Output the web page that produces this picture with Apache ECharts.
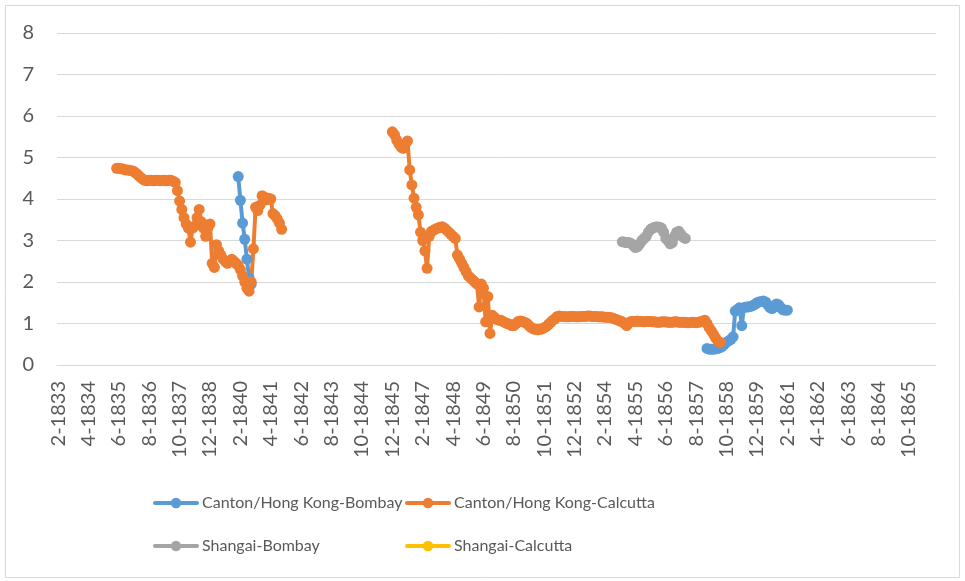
<!DOCTYPE html>
<html>
<head>
<meta charset="utf-8">
<title>Exchange rates</title>
<script src="https://cdn.jsdelivr.net/npm/echarts@6/dist/echarts.min.js"></script>
<style>
    html, body { margin: 0; padding: 0; background: #fff; }
    #echarts { width: 965px; height: 581px; }
</style>
</head>
<body>
<div id="echarts"></div>
<script>
// months shown on the axis: 2-1833 .. 10-1866
var firstMonth = 2, firstYear = 1833, monthCount = 405;

var seriesNames = ['Canton/Hong Kong-Bombay', 'Canton/Hong Kong-Calcutta', 'Shangai-Bombay', 'Shangai-Calcutta'];
var seriesColors = ['#5B9BD5', '#ED7D31', '#A5A5A5', '#FFC000'];

// Canton/Hong Kong-Bombay
var hkBombayStartA = '1-1840';
var hkBombayA = [4.54, 3.97, 3.42, 3.03, 2.55, 2.10, 1.95];
var hkBombayStartB = '1-1858';
var hkBombayB = [0.40, 0.38, 0.38, 0.38, 0.39, 0.40, 0.42, 0.45, 0.50, 0.55, 0.58, 0.62, 0.68,
    1.30, 1.34, 1.38, 0.95, 1.38, 1.40, 1.40, 1.41, 1.43, 1.46, 1.50, 1.52, 1.53, 1.54, 1.52,
    1.45, 1.38, 1.36, 1.40, 1.47, 1.45, 1.38, 1.33, 1.32, 1.32];

// Canton/Hong Kong-Calcutta
var hkCalcuttaStartA = '5-1835';
var hkCalcuttaA = [4.74, 4.74, 4.73, 4.72, 4.70, 4.70, 4.69,
    4.68, 4.66, 4.62, 4.57, 4.52, 4.48,
    4.45, 4.44, 4.45, 4.45, 4.44, 4.45, 4.45, 4.44, 4.45, 4.45, 4.44, 4.45, 4.45, 4.43,
    4.40, 4.20, 3.95, 3.75, 3.55, 3.40, 3.30, 2.96,
    3.30, 3.35, 3.55, 3.75, 3.45, 3.30, 3.10, 3.30, 3.40,
    2.45, 2.35, 2.90, 2.75, 2.65, 2.55, 2.50, 2.45, 2.50, 2.55, 2.50, 2.45, 2.40, 2.30, 2.15, 2.00, 1.85, 1.78,
    2.00, 2.80, 3.80, 3.72, 3.85, 4.08, 4.05, 3.98, 4.02, 4.00, 3.65, 3.60, 3.52, 3.42, 3.27];
var hkCalcuttaStartB = '12-1845';
var hkCalcuttaB = [5.62, 5.55, 5.42, 5.33, 5.25, 5.22, 5.32, 5.40,
    4.70, 4.34, 4.02, 3.80, 3.62, 3.20, 3.00, 2.75, 2.33,
    3.10, 3.22, 3.25, 3.28, 3.30, 3.32, 3.33, 3.30, 3.25, 3.20, 3.15, 3.10, 3.05,
    2.65, 2.55, 2.45, 2.35, 2.25, 2.15, 2.10, 2.05, 2.00, 1.95, 1.40, 1.95, 1.85, 1.04, 1.65, 0.76,
    1.20, 1.15, 1.10, 1.08, 1.08, 1.05, 1.02, 1.00, 0.98, 0.95, 0.95, 1.00, 1.05, 1.06, 1.05, 1.03,
    1.00, 0.95, 0.90, 0.87, 0.86, 0.85, 0.86, 0.87, 0.90, 0.93, 0.98, 1.03, 1.08, 1.12, 1.17, 1.18,
    1.17, 1.17, 1.16, 1.16, 1.17, 1.17, 1.17, 1.16, 1.16, 1.17, 1.17, 1.17, 1.18, 1.18, 1.17, 1.17,
    1.17, 1.16, 1.16, 1.16, 1.15, 1.15, 1.15,
    1.14, 1.12, 1.10, 1.08, 1.06, 1.04, 1.00, 0.95, 1.02, 1.05,
    1.05, 1.05, 1.06, 1.05, 1.05, 1.04, 1.05, 1.05, 1.05, 1.04, 1.04, 1.03, 1.03, 1.04, 1.04, 1.04,
    1.03, 1.03, 1.03, 1.04, 1.04, 1.03, 1.03, 1.03, 1.03, 1.02, 1.02, 1.03, 1.03, 1.02, 1.03,
    1.04, 1.06, 1.08, 1.00, 0.90, 0.82, 0.74, 0.65, 0.57, 0.55];

// Shangai-Bombay
var shBombayStart = '10-1854';
var shBombay = [2.97, 2.96, 2.95, 2.95, 2.93, 2.88, 2.83, 2.85, 2.92, 3.00, 3.05, 3.10, 3.20, 3.27, 3.30,
    3.32, 3.33, 3.32, 3.30, 3.20, 3.05, 3.00, 2.92, 2.95, 3.10, 3.20, 3.22, 3.15, 3.08, 3.05];

// Shangai-Calcutta (no visible values)
var shCalcutta = [];

var yTicks = [0, 1, 2, 3, 4, 5, 6, 7, 8];

var fontName = 'Lato, "Open Sans", sans-serif';
var textColor = '#595959';
var gridColor = '#D9D9D9';

// month labels like "2-1833"
function buildMonths() {
    var list = [];
    var m = firstMonth, y = firstYear;
    for (var i = 0; i < monthCount; i++) {
        list.push(m + '-' + y);
        m++;
        if (m > 12) { m = 1; y++; }
    }
    return list;
}
var months = buildMonths();

// put runs of values onto the month axis, empty months stay null
function placeRuns(runs) {
    var out = [];
    for (var i = 0; i < months.length; i++) out.push(null);
    runs.forEach(function(run) {
        var start = months.indexOf(run[0]);
        run[1].forEach(function(v, k) { out[start + k] = v; });
    });
    return out;
}

var seriesData = [
    placeRuns([[hkBombayStartA, hkBombayA], [hkBombayStartB, hkBombayB]]),
    placeRuns([[hkCalcuttaStartA, hkCalcuttaA], [hkCalcuttaStartB, hkCalcuttaB]]),
    placeRuns([[shBombayStart, shBombay]]),
    placeRuns([]).concat(shCalcutta)
];

function makeLegend(name, left, top) {
    return {
        data: [name],
        left: left,
        top: top,
        padding: 0,
        itemWidth: 42,
        itemHeight: 13,
        lineStyle: { width: 4, cap: 'round' },
        textStyle: { color: textColor, fontSize: 16, fontFamily: fontName },
        selectedMode: false
    };
}

function getOptions() {
    var series = seriesNames.map(function(name, k) {
        return {
            name: name,
            type: 'line',
            data: seriesData[k],
            symbol: 'circle',
            symbolSize: 11,
            showAllSymbol: true,
            connectNulls: false,
            itemStyle: { color: seriesColors[k] },
            lineStyle: { color: seriesColors[k], width: 4 }
        };
    });
    return {
        animation: false,
        backgroundColor: '#fff',
        color: seriesColors,
        graphic: [{
            type: 'rect',
            silent: true,
            shape: { x: 5.5, y: 5.5, width: 954, height: 572 },
            style: { fill: 'none', stroke: gridColor, lineWidth: 1 }
        }],
        legend: [
            makeLegend(seriesNames[0], 153, 495),
            makeLegend(seriesNames[1], 405, 495),
            makeLegend(seriesNames[2], 153, 538),
            makeLegend(seriesNames[3], 405, 538)
        ],
        grid: {
            left: 57,
            right: 29,
            top: 33,
            height: 332
        },
        xAxis: {
            type: 'category',
            data: months,
            boundaryGap: true,
            axisLine: { lineStyle: { color: gridColor, width: 1 } },
            axisTick: { show: false },
            axisLabel: {
                interval: 13,
                rotate: 90,
                margin: 16,
                color: textColor,
                fontSize: 20,
                fontFamily: fontName
            }
        },
        yAxis: {
            type: 'value',
            min: yTicks[0],
            max: yTicks[yTicks.length - 1],
            interval: 1,
            axisLine: { show: false },
            axisTick: { show: false },
            splitLine: { lineStyle: { color: gridColor, width: 1 } },
            axisLabel: {
                margin: 23,
                color: textColor,
                fontSize: 20,
                fontFamily: fontName
            }
        },
        series: series
    };
}

var myChart = echarts.init(document.getElementById('echarts'));
myChart.setOption(getOptions());
</script>
</body>
</html>
